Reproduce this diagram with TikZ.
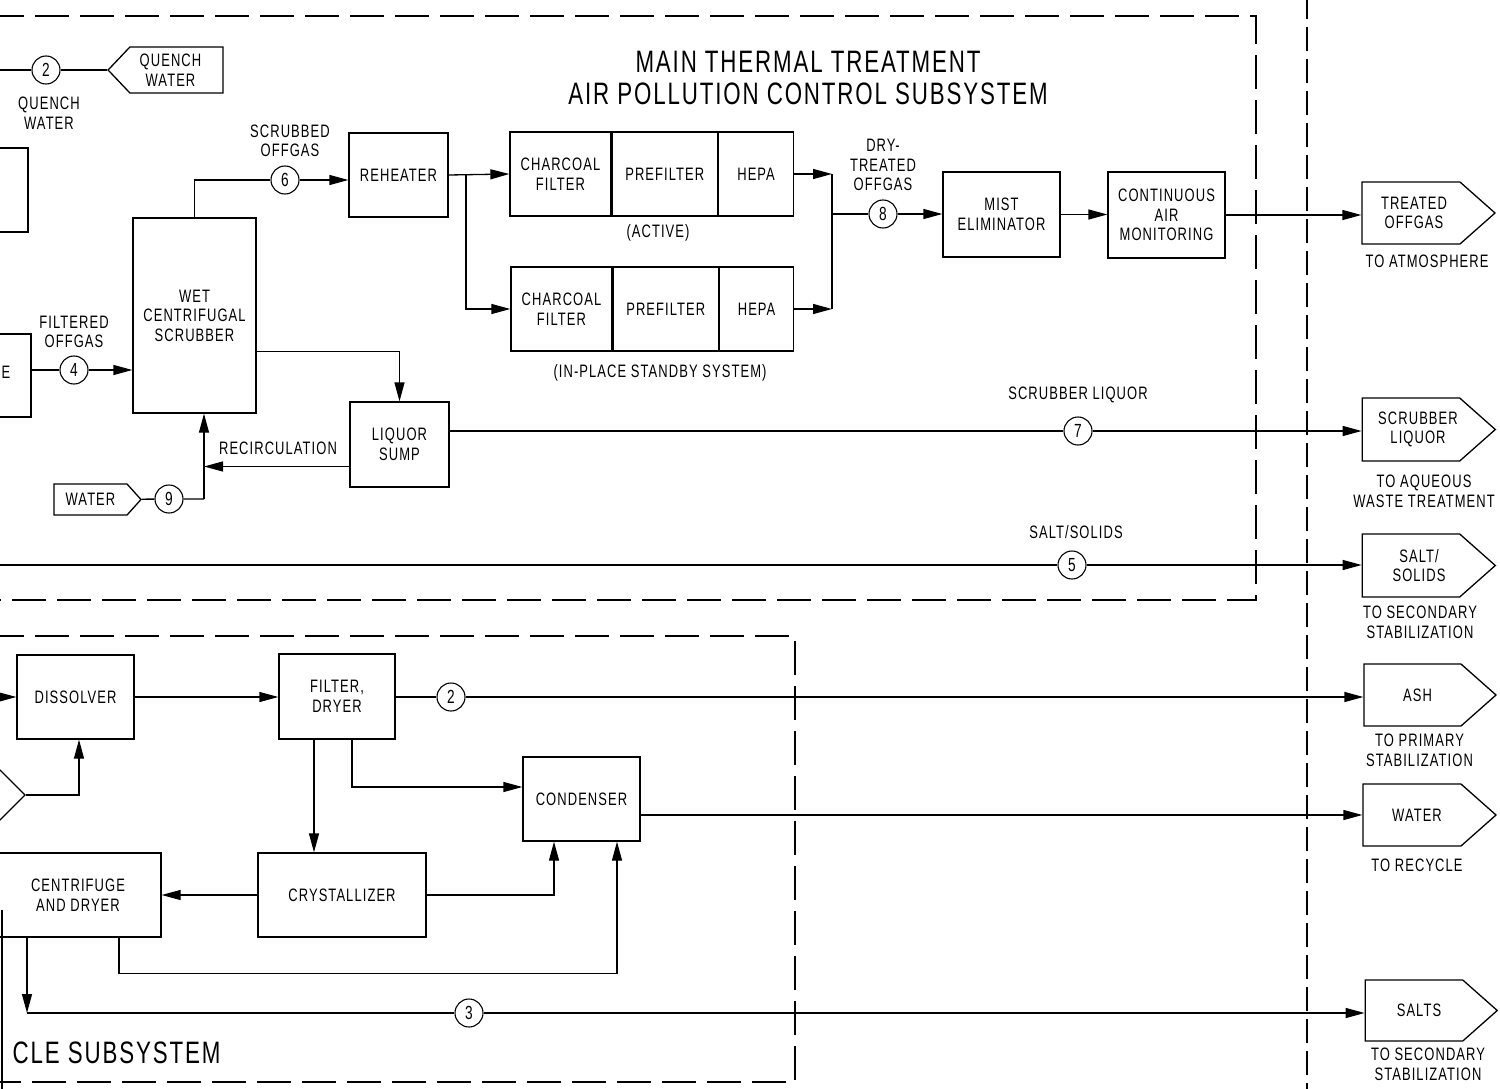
\documentclass[tikz,border=0pt]{standalone}
\usepackage{fontspec}
\setmainfont{Liberation Sans}[FakeStretch=0.72,LetterSpace=6]
\usetikzlibrary{positioning,arrows.meta,shapes.symbols}
\tikzset{
  txt/.style={font=\fontsize{18}{19.5}\selectfont, align=center, inner sep=0pt},
  unit/.style={draw, txt, minimum height=84pt},
  stream/.style={draw, circle, minimum size=28pt, inner sep=0pt, line width=1.1pt, font=\fontsize{19}{19}\selectfont},
  outlet/.style={draw, signal, signal to=east, signal pointer angle=83, minimum width=133pt, minimum height=62pt, inner sep=0pt},
  inlet/.style={draw, signal, inner sep=0pt},
  flow/.style={-{Triangle[length=19pt,width=10pt]}},
  frame/.style={dash pattern=on 34pt off 11pt},
  limit/.style={dash pattern=on 24pt off 8pt},
}
\begin{document}
\begin{tikzpicture}[x=1pt, y=-1pt, line width=1.3pt]
\useasboundingbox (0,0) rectangle (1500,1089);
\clip (0,0) rectangle (1500,1089);

\draw[frame] (-10,16) -| (1256,600) -- (-10,600);
\draw[frame] (-10,636) -| (795,1082) -- (-10,1082);
\draw[limit] (1307,-5) -- (1307,1095);

\node[txt, font=\fontsize{31}{32}\selectfont] (title) at (808,78) {MAIN THERMAL TREATMENT\\AIR POLLUTION CONTROL SUBSYSTEM};
\node[txt, font=\fontsize{31}{32}\selectfont, anchor=west] (title2) at (12,1053) {CLE SUBSYSTEM};

\node[unit, minimum width=100pt] (prev) at (-22,190) {};
\node[unit, minimum width=122pt, minimum height=83pt] (ebox) at (-30,375.5) {};
\node[txt] (etxt) at (6,372) {E};
\node[inlet, signal to=west, signal pointer angle=93, minimum width=115pt, minimum height=46pt,
  label={[txt,xshift=-6pt]center:{QUENCH\\WATER}}] (quench) at (176.5,70) {};
\node[unit, minimum width=123pt, minimum height=195pt] (scrubber) at (194.5,315.5) {WET\\CENTRIFUGAL\\SCRUBBER};
\node[unit, minimum width=99pt] (reheater) at (398.5,175) {REHEATER};
\node[unit, minimum width=101pt] (charA) at (560.5,174) {CHARCOAL\\FILTER};
\node[unit, minimum width=105pt, right=0pt of charA] (preA) {PREFILTER};
\node[unit, minimum width=75pt, right=0pt of preA] (hepaA) {HEPA};
\node[unit, minimum width=101pt] (charB) at (561.5,309) {CHARCOAL\\FILTER};
\node[unit, minimum width=105pt, right=0pt of charB] (preB) {PREFILTER};
\node[unit, minimum width=74pt, right=0pt of preB] (hepaB) {HEPA};
\node[txt] (active) at (658,233) {(ACTIVE)};
\node[txt] (standby) at (660,373) {(IN-PLACE STANDBY SYSTEM)};
\node[unit, minimum width=117pt, minimum height=85pt] (mist) at (1001.5,214.5) {MIST\\ELIMINATOR};
\node[unit, minimum width=117pt, minimum height=86pt] (cam) at (1166.5,215) {CONTINUOUS\\AIR\\MONITORING};
\node[unit, minimum width=99pt, minimum height=85pt] (sump) at (399.5,444.5) {LIQUOR\\SUMP};
\node[inlet, signal to=east, signal pointer angle=96, minimum width=87pt, minimum height=31pt,
  label={[txt]center:WATER}] (water) at (90.5,499.5) {};

\node[stream] (q2) at (46,70) {2};
\node[stream] (s6) at (285,180) {6};
\node[stream] (s4) at (74,370) {4};
\node[stream] (s9) at (169,499) {9};
\node[stream] (s8) at (883,214) {8};
\node[stream] (s7) at (1078,431) {7};
\node[stream] (s5) at (1072,565) {5};

\node[txt, below=12pt of q2, xshift=3pt] (quenchlbl) {QUENCH\\WATER};
\node[txt, above=8pt of s6, xshift=5pt] (scrubbedlbl) {SCRUBBED\\OFFGAS};
\node[txt, above=7pt of s4] (filteredlbl) {FILTERED\\OFFGAS};
\node[txt, above=8pt of s8] (drylbl) {DRY-\\TREATED\\OFFGAS};
\node[txt, above=13pt of s7] (liquorlbl) {SCRUBBER LIQUOR};
\node[txt, above=11pt of s5, xshift=4pt] (saltlbl) {SALT/SOLIDS};
\node[txt] (recirclbl) at (278,448) {RECIRCULATION};

\node[outlet, label={[txt,xshift=3pt]center:{TREATED\\OFFGAS}}] (treated) at (1411,213) {};
\node[outlet, minimum height=63pt, label={[txt,xshift=7pt]center:{SCRUBBER\\LIQUOR}}] (liquor) at (1411,429.5) {};
\node[outlet, minimum height=63pt, label={[txt,xshift=8pt]center:{SALT/\\SOLIDS}}] (salt) at (1411,565.5) {};
\node[outlet, minimum width=132pt, label={[txt,xshift=5pt]center:ASH}] (ash) at (1412.5,695) {};
\node[outlet, label={[txt,xshift=5pt]center:WATER}] (recycled) at (1412,815) {};
\node[outlet, minimum height=61pt, minimum width=132pt, label={[txt,xshift=5pt]center:SALTS}] (salts) at (1414,1010.5) {};

\node[txt, below=10pt of treated, xshift=16pt] (atmlbl) {TO ATMOSPHERE};
\node[txt, below=13pt of liquor, xshift=13pt] (aqueouslbl) {TO AQUEOUS\\WASTE TREATMENT};
\node[txt, below=8pt of salt, xshift=9pt] (secondlbl) {TO SECONDARY\\STABILIZATION};
\node[txt, below=7pt of ash, xshift=7pt] (primarylbl) {TO PRIMARY\\STABILIZATION};
\node[txt, below=12pt of recycled, xshift=5pt] (recyclelbl) {TO RECYCLE};
\node[txt, below=6pt of salts, xshift=14pt] (secondlbl2) {TO SECONDARY\\STABILIZATION};

\node[unit, minimum width=117pt] (dissolver) at (75.5,697) {DISSOLVER};
\node[unit, minimum width=116pt, minimum height=85pt] (fdryer) at (337,696.5) {FILTER,\\DRYER};
\node[unit, minimum width=117pt] (condenser) at (581.5,799) {CONDENSER};
\node[unit, minimum width=168pt] (cryst) at (342,895) {CRYSTALLIZER};
\node[unit, minimum width=166pt] (centrifuge) at (78,895) {CENTRIFUGE\\AND DRYER};
\node[inlet, signal to=east, signal pointer angle=90, minimum width=130pt, minimum height=50pt] (feed) at (-52.5,795) {};
\node[stream] (a2) at (451,697) {2};
\node[stream] (s3) at (469,1013) {3};

\coordinate (quenchin) at (-10,70);
\coordinate (split) at (466,175);
\coordinate (merge) at (832,214);
\coordinate (rj) at (204,499);
\coordinate (saltin) at (-10,565);
\coordinate (dissin) at (-10,697);
\coordinate (sj) at (27,1013);

\draw (quenchin) -- (q2) -- (quench);
\draw (scrubber.north) |- (s6);
\draw[flow] (s6) -- (s6 -| reheater.west);
\draw[flow] (reheater.east) -- (charA.west);
\draw[flow] (split) |- (charB.west);
\draw[flow] (hepaA.east) -- (hepaA.east -| merge);
\draw[flow] (hepaB.east) -- (hepaB.east -| merge);
\draw (hepaA.east -| merge) -- (hepaB.east -| merge);
\draw (merge) -- (s8);
\draw[flow] (s8) -- (s8 -| mist.west);
\draw[flow] (mist) -- (mist -| cam.west);
\draw[flow] (cam.east) -- (cam.east -| treated.west);
\draw (s4 -| ebox.east) -- (s4);
\draw[flow] (s4) -- (s4 -| scrubber.west);
\draw[flow] ([yshift=-36pt]scrubber.east) -| (sump.north);
\draw[flow] ([yshift=-22pt]sump.west) -- ([yshift=-22pt]sump.west -| rj);
\draw (water) -- (s9) -- (rj);
\draw[flow] (rj) -- (rj |- scrubber.south);
\draw (s7 -| sump.east) -- (s7);
\draw[flow] (s7) -- (s7 -| liquor.west);
\draw (saltin) -- (s5);
\draw[flow] (s5) -- (s5 -| salt.west);

\draw[flow] (dissin) -- (dissolver.west);
\draw[flow] (feed.east) -| ([xshift=3.5pt]dissolver.south);
\draw[flow] (dissolver) -- (dissolver -| fdryer.west);
\draw (a2 -| fdryer.east) -- (a2);
\draw[flow] (a2) -- (a2 -| ash.west);
\draw[flow] ([xshift=-23pt]fdryer.south) -- ([xshift=-23pt]fdryer.south |- cryst.north);
\draw[flow] ([xshift=15pt]fdryer.south) |- ([yshift=12pt]condenser.west);
\draw[flow] (recycled.west -| condenser.east) -- (recycled.west);
\draw[flow] (cryst.west) -- (cryst.west -| centrifuge.east);
\draw[flow] (cryst.east) -| ([xshift=-27.5pt]condenser.south);
\draw[flow] ([xshift=41pt]centrifuge.south) -- ++(0,36) -| ([xshift=35.5pt]condenser.south);
\draw[flow] ([xshift=-51pt]centrifuge.south) -- (sj);
\draw (sj) -- (s3);
\draw[flow] (s3) -- (s3 -| salts.west);
\draw (2,910) -- (2,1095);
\end{tikzpicture}
\end{document}
